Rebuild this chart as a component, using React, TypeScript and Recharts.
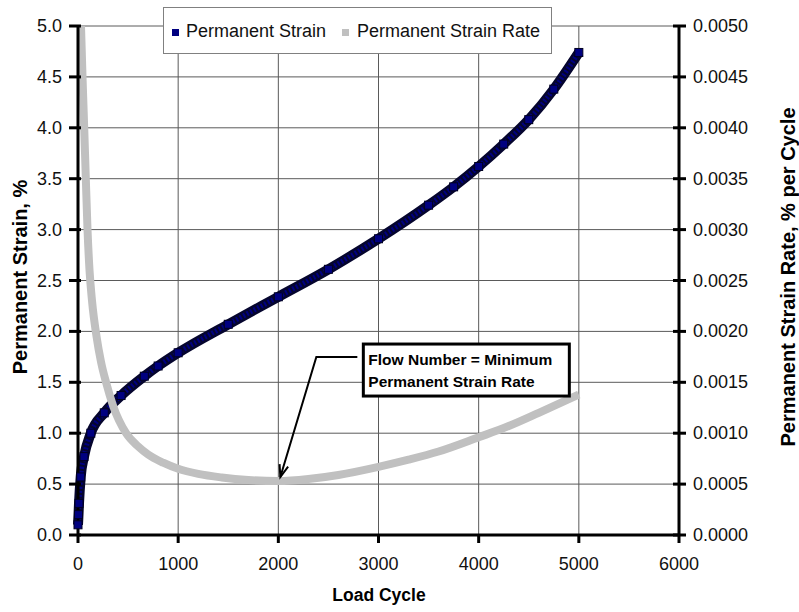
import React from 'react';
import {
  ComposedChart, Line, XAxis, YAxis, CartesianGrid, ReferenceDot,
} from 'recharts';

// values
const STRAIN_CYCLES = [0, 5, 10, 27, 60, 128, 262, 430, 662, 800, 1000, 1500, 2000, 2500, 3000, 3500, 3750, 4000, 4250, 4500, 4750, 5000];
const STRAIN_VALUES = [0.1, 0.2, 0.31, 0.57, 0.77, 1.0, 1.2, 1.37, 1.56, 1.66, 1.79, 2.07, 2.34, 2.61, 2.91, 3.24, 3.42, 3.62, 3.84, 4.08, 4.38, 4.74];

const RATE_CYCLES = [30, 45, 62, 78, 95, 115, 140, 185, 230, 280, 350, 480, 600, 700, 850, 1000, 1200, 1435, 1700, 2000, 2300, 2600, 3000, 3300, 3600, 4000, 4300, 4600, 5000];
const RATE_VALUES = [0.005, 0.0045, 0.004, 0.0035, 0.003, 0.0026, 0.0023, 0.00195, 0.0017, 0.0015, 0.00127, 0.001, 0.00087, 0.00079, 0.00071, 0.00065, 0.0006, 0.000565, 0.00054, 0.00053, 0.00055, 0.00059, 0.00067, 0.00074, 0.00082, 0.00096, 0.00107, 0.0012, 0.00138];

const X_TICKS = [0, 1000, 2000, 3000, 4000, 5000, 6000];
const STRAIN_TICKS = [0, 0.5, 1.0, 1.5, 2.0, 2.5, 3.0, 3.5, 4.0, 4.5, 5.0];
const RATE_TICKS = [0, 0.0005, 0.001, 0.0015, 0.002, 0.0025, 0.003, 0.0035, 0.004, 0.0045, 0.005];

const FLOW_NUMBER_CYCLE = 2000;
const FLOW_NUMBER_RATE = 0.00053;

const strainData = STRAIN_CYCLES.map((c, i) => ({ cycle: c, strain: STRAIN_VALUES[i] }));
const rateData = RATE_CYCLES.map((c, i) => ({ cycle: c, rate: RATE_VALUES[i] }));

const FONT = 'Arial, "Liberation Sans", sans-serif';
const NAVY = '#000080';
const GRAY = '#c0c0c0';

const LeftTick = (props: any) => {
  const { x, y, payload } = props;
  const ax = x + 16;
  return (
    <g>
      <line x1={ax - 9} y1={y} x2={ax + 3} y2={y} stroke="#000" strokeWidth={3} />
      <text x={x} y={y} dy={6} textAnchor="end" fontSize={18} fill="#111" fontFamily={FONT}>
        {Number(payload.value).toFixed(1)}
      </text>
    </g>
  );
};

const RightTick = (props: any) => {
  const { x, y, payload } = props;
  const ax = x - 14;
  return (
    <g>
      <line x1={ax - 6} y1={y} x2={ax + 7} y2={y} stroke="#000" strokeWidth={3} />
      <text x={x} y={y} dy={6} textAnchor="start" fontSize={18} fill="#111" fontFamily={FONT}>
        {Number(payload.value).toFixed(4)}
      </text>
    </g>
  );
};

const BottomTick = (props: any) => {
  const { x, y, payload } = props;
  const ay = y - 22;
  return (
    <g>
      <line x1={x} y1={ay} x2={x} y2={ay + 8} stroke="#000" strokeWidth={3} />
      <text x={x} y={y} dy={13} textAnchor="middle" fontSize={18} fill="#111" fontFamily={FONT}>
        {payload.value}
      </text>
    </g>
  );
};

const squareDot = (props: any) => {
  const { cx, cy, index } = props;
  if (cx == null || cy == null) return <g key={`d${index}`} />;
  return (
    <rect key={`d${index}`} x={cx - 4} y={cy - 4} width={8} height={8}
      fill={NAVY} stroke="#000022" strokeWidth={1} />
  );
};

const FlowNote = (props: any) => {
  const { cx, cy } = props;
  if (cx == null || cy == null) return <g />;
  const tipX = cx + 2;
  const tipY = cy - 4;
  const kneeX = cx + 38;
  const kneeY = cy - 124;
  const ang = Math.atan2(kneeY - tipY, kneeX - tipX);
  const len = 13;
  const a1 = ang + 0.35;
  const a2 = ang - 0.35;
  return (
    <g>
      <polyline points={`${cx + 79},${kneeY} ${kneeX},${kneeY} ${tipX},${tipY}`}
        fill="none" stroke="#000" strokeWidth={2} />
      <polyline
        points={`${tipX + len * Math.cos(a1)},${tipY + len * Math.sin(a1)} ${tipX},${tipY} ${tipX + len * Math.cos(a2)},${tipY + len * Math.sin(a2)}`}
        fill="none" stroke="#000" strokeWidth={2} />
      <rect x={cx + 85} y={cy - 137} width={206} height={52} fill="#fff" stroke="#000" strokeWidth={3} />
      <text x={cx + 90} y={cy - 116} fontSize={15.5} fontWeight="bold" fontFamily={FONT} fill="#000">
        Flow Number = Minimum
      </text>
      <text x={cx + 90} y={cy - 94} fontSize={15.5} fontWeight="bold" fontFamily={FONT} fill="#000">
        Permanent Strain Rate
      </text>
    </g>
  );
};

export default function App() {
  return (
    <div style={{ position: 'absolute', left: 0, top: 0, width: 799, height: 612, background: '#fff' }}>
      <ComposedChart width={799} height={612} margin={{ top: 26, right: 45, bottom: 27, left: 20 }}>
        <CartesianGrid stroke="#5a5a5a" strokeWidth={1} yAxisId="strain" />
        <XAxis
          type="number" dataKey="cycle" domain={[0, 6000]} ticks={X_TICKS}
          height={50} tickSize={8} tickMargin={14} tickLine={false}
          axisLine={{ stroke: '#000', strokeWidth: 3 }}
          tick={<BottomTick />} interval={0}
        />
        <YAxis
          yAxisId="strain" orientation="left" type="number" domain={[0, 5]}
          ticks={STRAIN_TICKS} width={58} tickSize={9} tickMargin={7} tickLine={false}
          axisLine={{ stroke: '#000', strokeWidth: 3 }} tick={<LeftTick />}
          interval={0} allowDataOverflow
        />
        <YAxis
          yAxisId="rate" orientation="right" type="number" domain={[0, 0.005]}
          ticks={RATE_TICKS} width={75} tickSize={7} tickMargin={7} tickLine={false}
          axisLine={{ stroke: '#000', strokeWidth: 3 }} tick={<RightTick />}
          interval={0} allowDataOverflow
        />
        <Line
          yAxisId="strain" data={strainData} dataKey="strain" type="monotone"
          stroke="#05052e" strokeWidth={10} dot={false} isAnimationActive={false}
        />
        <Line
          yAxisId="strain" data={strainData} dataKey="strain" type="monotone"
          stroke={NAVY} strokeWidth={5} strokeDasharray="2 2" dot={squareDot}
          isAnimationActive={false}
        />
        <Line
          yAxisId="rate" data={rateData} dataKey="rate" type="monotone"
          stroke={GRAY} strokeWidth={8} dot={false} isAnimationActive={false}
        />
        <ReferenceDot
          yAxisId="rate" x={FLOW_NUMBER_CYCLE} y={FLOW_NUMBER_RATE} r={0}
          shape={FlowNote} ifOverflow="visible"
        />
      </ComposedChart>
      <svg width={799} height={612} style={{ position: 'absolute', left: 0, top: 0, pointerEvents: 'none' }}>
        <rect x={163.5} y={7.5} width={388} height={46} fill="#fff" stroke="#808080" strokeWidth={1} />
        <rect x={172} y={29} width={7} height={7} fill={NAVY} />
        <text x={186} y={37} fontSize={18} fontFamily={FONT} fill="#111">Permanent Strain</text>
        <rect x={342} y={29} width={7} height={7} fill={GRAY} />
        <text x={357} y={37} fontSize={18} fontFamily={FONT} fill="#111">Permanent Strain Rate</text>
        <text x={379} y={601} textAnchor="middle" fontSize={17.5} fontWeight="bold" fontFamily={FONT} fill="#000">
          Load Cycle
        </text>
        <text transform="translate(27,277) rotate(-90)" textAnchor="middle" fontSize={20}
          fontWeight="bold" fontFamily={FONT} fill="#000">
          Permanent Strain, %
        </text>
        <text transform="translate(795,277) rotate(-90)" textAnchor="middle" fontSize={20}
          fontWeight="bold" fontFamily={FONT} fill="#000">
          Permanent Strain Rate, % per Cycle
        </text>
      </svg>
    </div>
  );
}
